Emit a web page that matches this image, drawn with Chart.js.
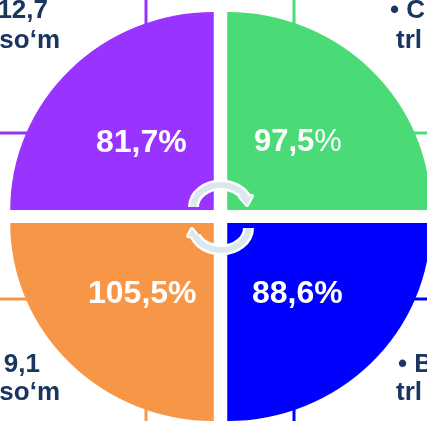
<!DOCTYPE html>
<html><head><meta charset="utf-8">
<style>html,body{margin:0;padding:0;background:#fff;overflow:hidden;width:427px;height:421px}
#wrap{position:absolute;left:0;top:0;width:441px;height:433px}</style>
<script src="https://cdn.jsdelivr.net/npm/chart.js@4"></script>
</head><body><div id="wrap"><canvas id="c" width="441" height="433"></canvas></div>
<script>
const categories = ["C", "B", "A", "D"];
const quadrantShares = [25, 25, 25, 25];
const percents = ["97,5", "88,6", "105,5", "81,7"];
const colors = ["#4ADB76", "#0000FF", "#F79646", "#9933FF"];
const notes = [["12,7", "so‘m"], ["• C", "trl"], ["9,1", "so‘m"], ["• B", "trl"]];

const cx = 220.5, cy = 216.5, stretchX = 1.028;
const navy = "#1A3560";

const decor = {
  id: "decor",
  beforeDatasetsDraw(chart) {
    const ctx = chart.ctx;
    ctx.save();
    const lines = [
      [colors[3], 146, 0, 146, 30], [colors[3], 0, 133, 30, 133],
      [colors[0], 294, 0, 294, 30], [colors[0], 400, 133, 427, 133],
      [colors[2], 0, 299, 30, 299], [colors[2], 146, 400, 146, 421],
      [colors[1], 400, 299, 427, 299], [colors[1], 294, 400, 294, 421]
    ];
    ctx.lineWidth = 3;
    lines.forEach(l => { ctx.strokeStyle = l[0]; ctx.beginPath(); ctx.moveTo(l[1], l[2]); ctx.lineTo(l[3], l[4]); ctx.stroke(); });
    ctx.restore();
    ctx.save();
    ctx.translate(cx, cy); ctx.scale(stretchX, 1); ctx.translate(-cx, -cy);
  },
  afterDatasetsDraw(chart) {
    const ctx = chart.ctx;
    ctx.restore();
    ctx.save();

    // arrows: flattened arcs with a small head
    const arrow = (ex, ey, a0, a1, tri, w, col, grow) => {
      ctx.strokeStyle = col; ctx.fillStyle = col; ctx.lineWidth = w; ctx.lineCap = "butt"; ctx.lineJoin = "round";
      ctx.beginPath(); ctx.ellipse(ex, ey, 27.5, 22, 0, a0, a1); ctx.stroke();
      ctx.beginPath(); ctx.moveTo(tri[0][0], tri[0][1]); ctx.lineTo(tri[1][0], tri[1][1]); ctx.lineTo(tri[2][0], tri[2][1]); ctx.closePath();
      ctx.lineWidth = grow; ctx.stroke(); ctx.fill();
    };
    [[11, "#FFFFFF", 4], [6, "#D9E8EE", 0.5]].forEach(([w, col, g]) => {
      arrow(221, 207, Math.PI, Math.PI * 1.85, [[247, 205], [240, 197], [252, 196]], w, col, g);
      arrow(221, 228, 0, Math.PI * 0.88, [[192, 229], [188, 236], [199, 238]], w, col, g);
    });

    // percent labels
    ctx.fillStyle = "#FFFFFF"; ctx.textBaseline = "alphabetic"; ctx.textAlign = "left";
    const pct = [[254, 151, 31, "normal"], [252, 303, 32, "bold"], [88, 303, 32, "bold"], [96, 152, 32, "bold"]];
    percents.forEach((p, i) => {
      const [x, y, s, w] = pct[i];
      ctx.font = "bold " + s + "px 'Liberation Sans'";
      ctx.fillText(p, x, y);
      const adv = ctx.measureText(p).width;
      ctx.font = (w === "bold" ? "bold " : "") + s + "px 'Liberation Sans'";
      ctx.fillText("%", x + adv, y);
    });

    // side notes
    ctx.fillStyle = navy; ctx.font = "bold 26px 'Liberation Sans'";
    const pos = [[48, 18, 60, 48, "right"], [390, 18, 396, 48, "left"], [40, 372, 60, 400, "right"], [398, 372, 396, 400, "left"]];
    notes.forEach((n, i) => {
      const p = pos[i];
      ctx.textAlign = p[4];
      ctx.fillText(n[0], p[0], p[1]);
      ctx.fillText(n[1], p[2], p[3]);
    });
    ctx.restore();
  }
};

new Chart(document.getElementById("c"), {
  type: "pie",
  data: { labels: categories, datasets: [{ data: quadrantShares, backgroundColor: colors, borderWidth: 0, offset: 37, hoverOffset: 0 }] },
  options: {
    responsive: false, animation: false, radius: 198,
    layout: { padding: 0 },
    plugins: { legend: { display: false }, tooltip: { enabled: false } }
  },
  plugins: [decor]
});
</script></body></html>
